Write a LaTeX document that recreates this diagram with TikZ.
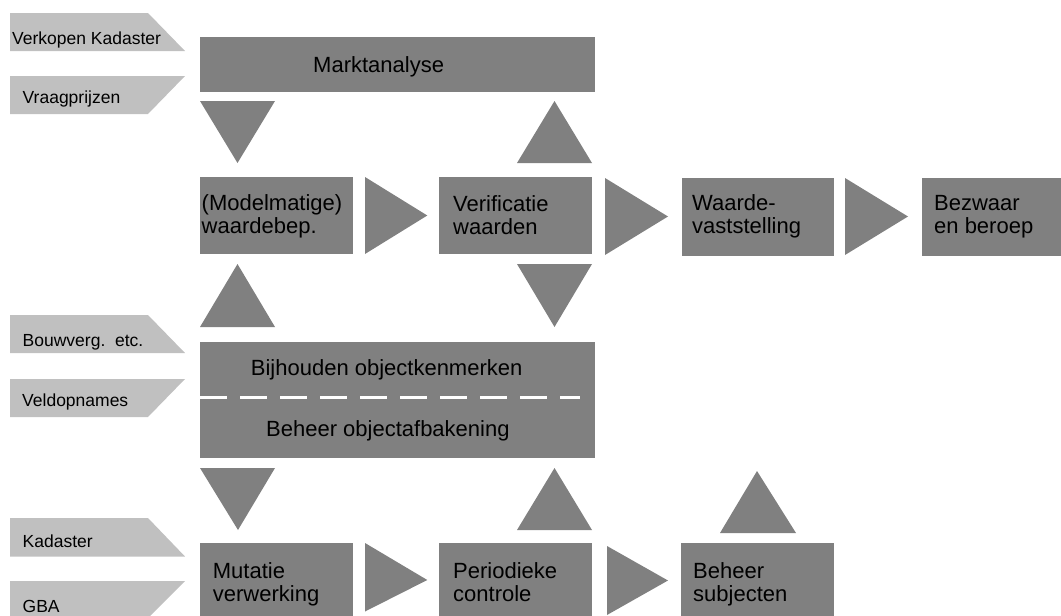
\documentclass[tikz,border=0pt]{standalone}
\usepackage{fontspec}
\setmainfont{Liberation Sans}
\definecolor{boxgray}{HTML}{808080}
\definecolor{tabgray}{HTML}{C0C0C0}
\newcommand{\boxfont}{\fontsize{22}{23}\selectfont}
\newcommand{\tabfont}{\fontsize{17.5}{20}\selectfont}
\newcommand{\twoline}[2]{\begin{tabular}[t]{@{}l@{}}#1\\#2\end{tabular}}
\tikzset{
  procbox/.style={fill=boxgray, draw=none, inner sep=0pt, anchor=north west},
  boxtext/.style={font=\boxfont, text=black, inner sep=0pt, anchor=base west},
  tabtext/.style={font=\tabfont, text=black, inner sep=0pt, anchor=base west},
  tab/.style={fill=tabgray, draw=none},
  flow/.style={fill=boxgray, draw=none},
  divider/.style={draw=white, line width=3pt, dash pattern=on 27pt off 13pt}
}
\begin{document}
\begin{tikzpicture}[x=1pt, y=-1pt]
\useasboundingbox (0,0) rectangle (1061,616);

% input tabs on the left
\fill[tab] (10,13) -- (148,13) -- (185,51) -- (10,51) -- cycle;
\node[tabtext] (verkopen) at (12,44.3) {Verkopen Kadaster};
\fill[tab] (10,76) -- (185,76) -- (148,114) -- (10,114) -- cycle;
\node[tabtext] (vraag) at (22.5,103.3) {Vraagprijzen};
\fill[tab] (10,315) -- (148,315) -- (185,353) -- (10,353) -- cycle;
\node[tabtext] (bouw) at (22.5,346) {Bouwverg.\ \ etc.};
\fill[tab] (10,379) -- (185,379) -- (148,417) -- (10,417) -- cycle;
\node[tabtext] (veld) at (22,406.7) {Veldopnames};
\fill[tab] (10,518) -- (148,518) -- (185,556.5) -- (10,556.5) -- cycle;
\node[tabtext] (kadaster) at (22.5,547.3) {Kadaster};
\fill[tab] (10,581) -- (185,581) -- (148,618) -- (10,618) -- cycle;
\node[tabtext] (gba) at (22.5,612.7) {GBA};

% process boxes
\node[procbox, minimum width=395pt, minimum height=55pt] (markt) at (200,37) {};
\node[boxtext] (markt-t) at (313,72.7) {Marktanalyse};

\node[procbox, minimum width=153pt, minimum height=77pt] (model) at (200,177) {};
\node[boxtext] (model-t) at (201.5,210.5) {\twoline{(Modelmatige)}{waardebep.}};

\node[procbox, minimum width=153pt, minimum height=77pt] (verif) at (439,177) {};
\node[boxtext] (verif-t) at (453,211.5) {\twoline{Verificatie}{waarden}};

\node[procbox, minimum width=152pt, minimum height=78pt] (waarde) at (682,178) {};
\node[boxtext] (waarde-t) at (692,210.5) {\twoline{Waarde-}{vaststelling}};

\node[procbox, minimum width=139pt, minimum height=78pt] (bezwaar) at (922,178) {};
\node[boxtext] (bezwaar-t) at (934,210.5) {\twoline{Bezwaar}{en beroep}};

\node[procbox, minimum width=395pt, minimum height=116pt] (bijh) at (200,342) {};
\node[boxtext] (bijh-t) at (250.7,375.5) {Bijhouden objectkenmerken};
\node[boxtext] (afbak-t) at (266,436.2) {Beheer objectafbakening};
\coordinate (dash-l) at (200,397);
\coordinate (dash-r) at (580,397);
\draw[divider] (dash-l) -- (dash-r);

\node[procbox, minimum width=153pt, minimum height=75pt] (mutatie) at (200,543) {};
\node[boxtext] (mutatie-t) at (212.7,578.2) {\twoline{Mutatie}{verwerking}};

\node[procbox, minimum width=153pt, minimum height=75pt] (period) at (439,543) {};
\node[boxtext] (period-t) at (453,578.2) {\twoline{Periodieke}{controle}};

\node[procbox, minimum width=153pt, minimum height=75pt] (subject) at (681,543) {};
\node[boxtext] (subject-t) at (693,578.2) {\twoline{Beheer}{subjecten}};

% flow triangles, top band
\fill[flow] (200,101) -- (275,101) -- (237.5,163) -- cycle;
\fill[flow] (517,163) -- (592,163) -- (554.5,101) -- cycle;
% flow triangles, middle row
\fill[flow] (365,177) -- (427.3,215.5) -- (365,254) -- cycle;
\fill[flow] (605,178) -- (668,216.5) -- (605,255) -- cycle;
\fill[flow] (845,178) -- (908,216.5) -- (845,255) -- cycle;
% flow triangles, around the object register
\fill[flow] (200,327) -- (275,327) -- (237.5,264) -- cycle;
\fill[flow] (517,264) -- (592,264) -- (554.5,327) -- cycle;
\fill[flow] (200,468) -- (275,468) -- (238,530) -- cycle;
\fill[flow] (517,530) -- (592,530) -- (554.5,468) -- cycle;
\fill[flow] (720,533) -- (796,533) -- (757,471) -- cycle;
% flow triangles, bottom row
\fill[flow] (365,543) -- (427.3,580) -- (365,611.5) -- cycle;
\fill[flow] (607,546) -- (668,580.5) -- (607,615) -- cycle;
\end{tikzpicture}
\end{document}
